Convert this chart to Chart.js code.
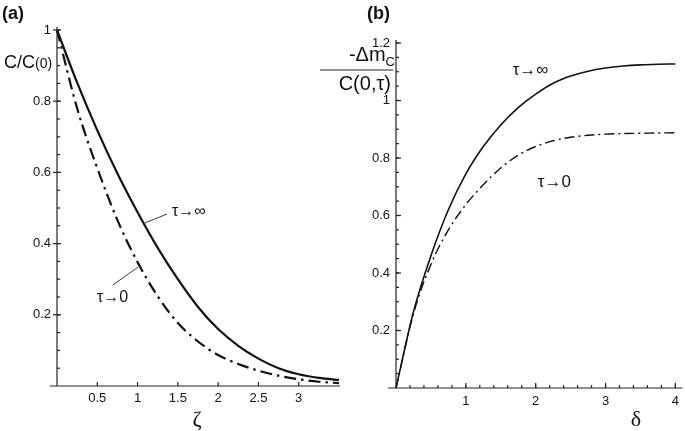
<!DOCTYPE html>
<html><head><meta charset="utf-8">
<script src="https://cdn.jsdelivr.net/npm/chart.js@4.4.0/dist/chart.umd.min.js"></script>
<style>
html,body{margin:0;padding:0;background:#fff;overflow:hidden}
#wrap{position:relative;width:685px;height:431px}
canvas{position:absolute;left:0;top:0}
</style></head>
<body><div id="wrap"><canvas id="ca" width="685" height="431"></canvas><canvas id="cb" width="685" height="431"></canvas></div>
<script>
// ---- Panel (a) data ----
const zeta     = [0,0.25,0.5,0.75,1.0,1.25,1.5,1.75,2.0,2.25,2.5,2.75,3.0,3.25,3.5];
const cTauInf  = [1.0,0.852,0.718,0.597,0.488,0.388,0.300,0.222,0.160,0.113,0.077,0.050,0.033,0.023,0.017];
const cTau0    = [1.0,0.78,0.612,0.466,0.348,0.252,0.177,0.125,0.087,0.062,0.043,0.029,0.019,0.012,0.008];
const zetaTickLabels = [0.5,1,1.5,2,2.5,3];
const cTickLabels    = [0.2,0.4,0.6,0.8,1];
// ---- Panel (b) data ----
const delta    = [0,0.25,0.5,0.75,1.0,1.25,1.5,1.75,2.0,2.25,2.5,2.75,3.0,3.25,3.5,3.75,4.0];
const mTauInf  = [0,0.265,0.46,0.62,0.745,0.84,0.915,0.975,1.022,1.06,1.085,1.102,1.113,1.12,1.124,1.126,1.127];
const mTau0    = [0,0.258,0.43,0.55,0.638,0.707,0.765,0.81,0.84,0.86,0.872,0.879,0.883,0.885,0.886,0.887,0.888];
const deltaTickLabels = [1,2,3,4];
const mTickLabels     = [0.2,0.4,0.6,0.8,1,1.2];

const pts = (xs, ys) => xs.map((x,i)=>({x:x, y:ys[i]}));
const showIf = (list) => (v) => list.some(t=>Math.abs(t-v)<1e-6) ? String(+(+v).toFixed(2)) : '';
const FONT = "'Liberation Sans', Arial, sans-serif";
const SERIF = "'Liberation Serif', 'DejaVu Serif', serif";
const INK = '#111';

function line(ctx,x1,y1,x2,y2){ctx.beginPath();ctx.moveTo(x1,y1);ctx.lineTo(x2,y2);ctx.stroke();}

const axesA = {
  id:'axesA',
  afterDraw(chart){
    const ctx=chart.ctx, xs=chart.scales.x, ys=chart.scales.y;
    ctx.save();
    ctx.strokeStyle='#222'; ctx.lineWidth=1.2;
    const x0=xs.getPixelForValue(0), y0=ys.getPixelForValue(0);
    line(ctx,x0,ys.getPixelForValue(1)-3,x0,y0);
    line(ctx,x0-7,y0,xs.getPixelForValue(3.5)+1,y0);
    for(let k=1;k<=20;k++){const y=ys.getPixelForValue(k*0.05);line(ctx,x0,y,x0+3,y);}
    cTickLabels.forEach(v=>{const y=ys.getPixelForValue(v);line(ctx,x0-4,y,x0+4,y);});
    zetaTickLabels.forEach(v=>{const x=xs.getPixelForValue(v);line(ctx,x,y0,x,y0-4);});
    // labels
    ctx.fillStyle=INK; ctx.textBaseline='middle'; ctx.textAlign='left';
    ctx.font="bold 18px "+FONT; ctx.fillText('(a)',2,14);
    ctx.font="18px "+FONT; ctx.fillText('C/C',4,63);
    const w=ctx.measureText('C/C').width;
    ctx.font="14px "+FONT; ctx.fillText('(0)',4+w,64);
    ctx.font="22px "+SERIF; ctx.textAlign='center'; ctx.fillText('ζ',197,420);
    // curve labels
    ctx.lineWidth=0.9;
    line(ctx,xs.getPixelForValue(1.09),ys.getPixelForValue(0.458),xs.getPixelForValue(1.365),ys.getPixelForValue(0.483));
    line(ctx,xs.getPixelForValue(0.695),ys.getPixelForValue(0.284),xs.getPixelForValue(1.005),ys.getPixelForValue(0.334));
    ctx.textAlign='left'; ctx.font="16px "+FONT;
    ctx.fillText('τ→∞',xs.getPixelForValue(1.427),ys.getPixelForValue(0.489));
    ctx.fillText('τ→0',xs.getPixelForValue(0.496),ys.getPixelForValue(0.247));
    ctx.restore();
  }
};

const axesB = {
  id:'axesB',
  afterDraw(chart){
    const ctx=chart.ctx, xs=chart.scales.x, ys=chart.scales.y;
    ctx.save();
    ctx.strokeStyle='#222'; ctx.lineWidth=1.2;
    const x0=xs.getPixelForValue(0), y0=ys.getPixelForValue(0);
    line(ctx,x0,ys.getPixelForValue(1.2)-3,x0,y0);
    line(ctx,x0-8,y0,xs.getPixelForValue(4)+7,y0);
    for(let k=1;k<=24;k++){const y=ys.getPixelForValue(k*0.05);line(ctx,x0,y,x0+3,y);}
    mTickLabels.forEach(v=>{const y=ys.getPixelForValue(v);line(ctx,x0,y,x0+5,y);});
    for(let k=1;k<=20;k++){const x=xs.getPixelForValue(k*0.2);line(ctx,x,y0,x,y0-3);}
    deltaTickLabels.forEach(v=>{const x=xs.getPixelForValue(v);line(ctx,x,y0,x,y0-5);});
    ctx.fillStyle=INK; ctx.textBaseline='middle'; ctx.textAlign='left';
    ctx.font="bold 18px "+FONT; ctx.fillText('(b)',367,14);
    // fraction y label
    ctx.textAlign='right';
    ctx.font="13px "+FONT; const wc=ctx.measureText('C').width;
    ctx.fillText('C',395,62);
    ctx.font="20px "+FONT; ctx.fillText('-Δm',395-wc,55);
    ctx.fillText('C(0,τ)',391,84);
    ctx.lineWidth=1; line(ctx,320,70,393,70);
    ctx.textAlign='center';
    ctx.font="22px "+SERIF; ctx.fillText('δ',636,420);
    ctx.textAlign='left'; ctx.font="17px "+FONT;
    ctx.fillText('τ→∞',xs.getPixelForValue(1.67),ys.getPixelForValue(1.106));
    ctx.fillText('τ→0',xs.getPixelForValue(2.03),ys.getPixelForValue(0.717));
    ctx.restore();
  }
};

function baseScales(xmin,xmax,xstep,xlist,ymin,ymax,ystep,ylist,yw,xh,ypad,xpad){
  return {
    x:{type:'linear',min:xmin,max:xmax,
       grid:{display:false,drawTicks:false},border:{display:false},
       ticks:{stepSize:xstep,autoSkip:false,maxRotation:0,padding:xpad,color:INK,font:{family:FONT,size:13},callback:showIf(xlist)},
       afterFit(s){s.height=xh;}},
    y:{type:'linear',min:ymin,max:ymax,
       grid:{display:false,drawTicks:false},border:{display:false},
       ticks:{stepSize:ystep,autoSkip:false,padding:ypad,color:INK,font:{family:FONT,size:13},callback:showIf(ylist)},
       afterFit(s){s.width=yw;}}
  };
}

const common = {
  responsive:false, animation:false, devicePixelRatio:1,
  plugins:{legend:{display:false},tooltip:{enabled:false}},
  elements:{point:{radius:0}}
};

new Chart(document.getElementById('ca'),{
  type:'line',
  data:{datasets:[
    {data:pts(zeta,cTauInf),borderColor:INK,borderWidth:2.2,cubicInterpolationMode:'monotone',fill:false,clip:4},
    {data:pts(zeta,cTau0),borderColor:INK,borderWidth:2.2,borderDash:[12,5,2.5,5],cubicInterpolationMode:'monotone',fill:false,clip:4}
  ]},
  options:Object.assign({},common,{
    layout:{padding:{left:0,top:30,right:346,bottom:0}},
    scales:baseScales(0,3.5,0.5,zetaTickLabels,0,1,0.2,cTickLabels,57,45,6,5)
  }),
  plugins:[axesA]
});

new Chart(document.getElementById('cb'),{
  type:'line',
  data:{datasets:[
    {data:pts(delta,mTauInf),borderColor:INK,borderWidth:1.6,cubicInterpolationMode:'monotone',fill:false,clip:4},
    {data:pts(delta,mTau0),borderColor:INK,borderWidth:1.4,borderDash:[10,4,2,4],cubicInterpolationMode:'monotone',fill:false,clip:4}
  ]},
  options:Object.assign({},common,{
    layout:{padding:{left:300,top:43,right:9,bottom:0}},
    scales:baseScales(0,4,1,deltaTickLabels,0,1.2,0.2,mTickLabels,96,43,6,6)
  }),
  plugins:[axesB]
});
</script>
</body></html>
